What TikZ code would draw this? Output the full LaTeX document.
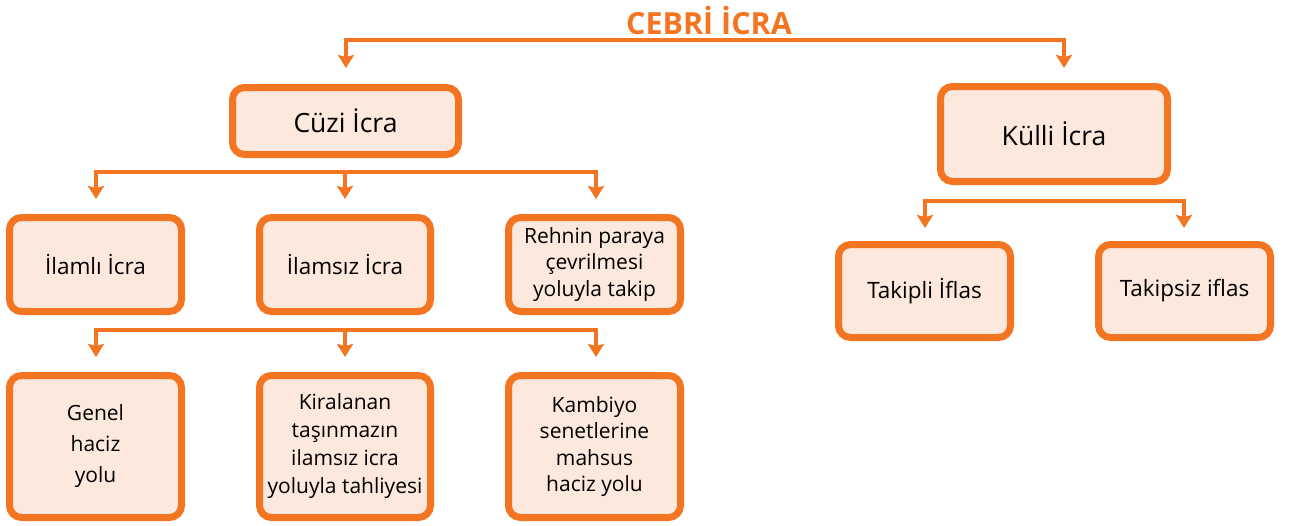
\documentclass[tikz,border=0pt]{standalone}
\usepackage{fontspec}
\setmainfont{Open Sans}
\usetikzlibrary{arrows.meta}
\definecolor{org}{HTML}{F47521}
\definecolor{peach}{HTML}{FCE8DC}
\begin{document}
\begin{tikzpicture}[x=1pt,y=-1pt,
  >={Stealth[length=13pt,width=16pt,inset=2pt]},
  box/.style={draw=org, fill=peach, line width=7pt, rounded corners=12pt,
    align=center, inner sep=0pt, font=\fontsize{22.5}{27}\selectfont},
  multi/.style={font=\fontsize{21}{#1}\selectfont},
  conn/.style={draw=org, line width=4pt}]
\useasboundingbox (0,0) rectangle (1292,525);

% title
\node[font=\fontsize{30.5}{32}\selectfont\bfseries, text=org] (title) at (709,21) {CEBRİ İCRA};

% level 1
\node[box, minimum width=226pt, minimum height=67pt, font=\fontsize{26.5}{28}\selectfont] (cuzi) at (345.5,121) {Cüzi İcra};
\node[box, minimum width=227pt, minimum height=95pt, font=\fontsize{26.5}{28}\selectfont] (kulli) at (1054,134) {Külli İcra};

% level 2
\node[box, minimum width=172pt, minimum height=94pt] (ilamli) at (95.5,264.5) {İlamlı İcra};
\node[box, minimum width=171pt, minimum height=94pt] (ilamsiz) at (345,264.5) {İlamsız İcra};
\node[box, minimum width=172pt, minimum height=94pt, multi=26.5] (rehin) at (594.5,264.5) {Rehnin paraya\\çevrilmesi\\yoluyla takip};

% level 3
\node[box, minimum width=172pt, minimum height=142pt, multi=31] (genel) at (95.5,446.5) {Genel\\haciz\\yolu};
\node[box, minimum width=171pt, minimum height=142pt, multi=28] (kira) at (345,446.5) {Kiralanan\\taşınmazın\\ilamsız icra\\yoluyla tahliyesi};
\node[box, minimum width=172pt, minimum height=142pt, multi=26.5] (kamb) at (594.5,446.5) {Kambiyo\\senetlerine\\mahsus\\haciz yolu};

% Külli children
\node[box, minimum width=172pt, minimum height=93pt] (takipli) at (924.5,291) {Takipli İflas};
\node[box, minimum width=172pt, minimum height=93pt] (takipsiz) at (1184.5,291) {Takipsiz iflas};

% connector coordinates
\coordinate (tL) at (346,68); \coordinate (tR) at (1064,40); \coordinate (tRe) at (1064,68);
\coordinate (cA) at (96,199); \coordinate (cC) at (596,172); \coordinate (cCe) at (596,199);
\coordinate (cB) at (345,172); \coordinate (cBe) at (345,199);
\coordinate (dA) at (96,357); \coordinate (dC) at (596,330); \coordinate (dCe) at (596,357);
\coordinate (dB) at (345,330); \coordinate (dBe) at (345,357);
\coordinate (kA) at (925,228); \coordinate (kC) at (1184,201); \coordinate (kCe) at (1184,228);

\draw[conn,<->] (tL) |- (tR) -- (tRe);
\draw[conn,<->] (cA) |- (cC) -- (cCe);
\draw[conn,->] (cB) -- (cBe);
\draw[conn,<->] (dA) |- (dC) -- (dCe);
\draw[conn,->] (dB) -- (dBe);
\draw[conn,<->] (kA) |- (kC) -- (kCe);
\end{tikzpicture}
\end{document}
